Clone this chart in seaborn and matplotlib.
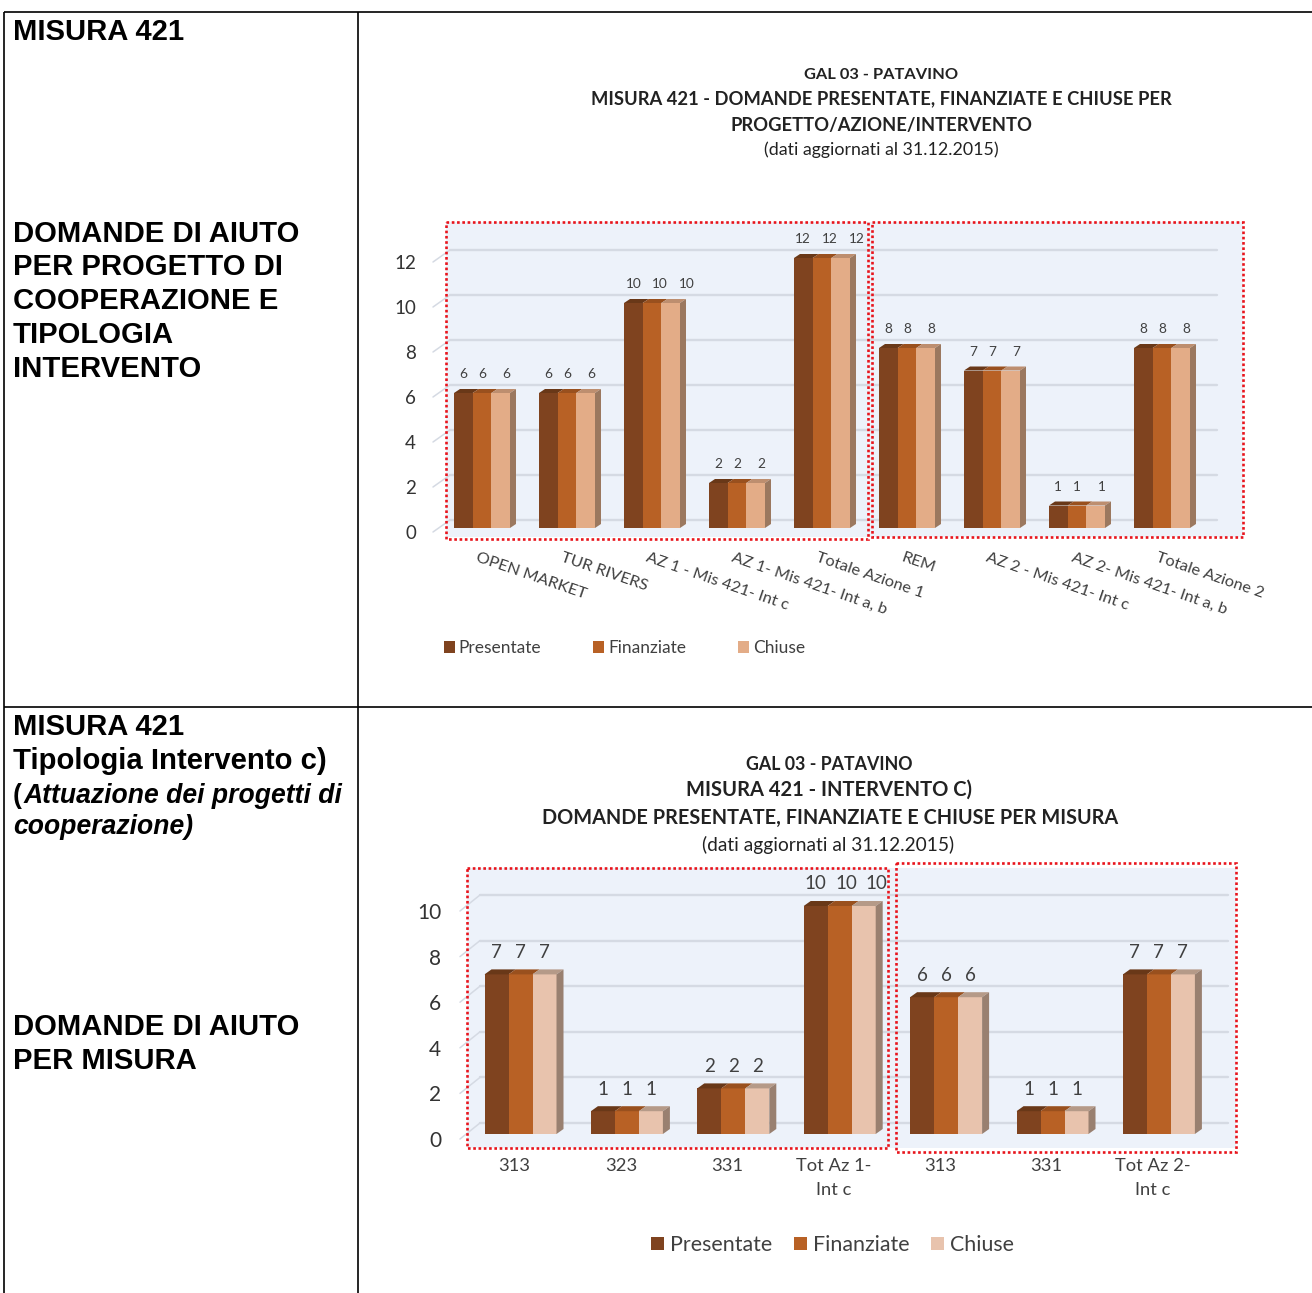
#!/usr/bin/env python3
"""Misura 421 - domande presentate, finanziate e chiuse (GAL 03 Patavino)."""

import matplotlib
matplotlib.use("Agg")
import matplotlib.pyplot as plt
from matplotlib.patches import Polygon, Rectangle
from matplotlib.transforms import ScaledTranslation
import pandas as pd
import seaborn as sns

W, H = 1312, 1293

SERIES = ["Presentate", "Finanziate", "Chiuse"]

# top chart
progetti = ["OPEN MARKET", "TUR RIVERS", "AZ 1 - Mis 421- Int c", "AZ 1- Mis 421- Int a, b",
            "Totale Azione 1", "REM", "AZ 2 - Mis 421- Int c", "AZ 2- Mis 421- Int a, b",
            "Totale Azione 2"]
progetti_presentate = [6, 6, 10, 2, 12, 8, 7, 1, 8]
progetti_finanziate = [6, 6, 10, 2, 12, 8, 7, 1, 8]
progetti_chiuse = [6, 6, 10, 2, 12, 8, 7, 1, 8]
progetti_ticks = [0, 2, 4, 6, 8, 10, 12]

# bottom chart
misure = ["313", "323", "331", "Tot Az 1-\nInt c", "313", "331", "Tot Az 2-\nInt c"]
misure_presentate = [7, 1, 2, 10, 6, 1, 7]
misure_finanziate = [7, 1, 2, 10, 6, 1, 7]
misure_chiuse = [7, 1, 2, 10, 6, 1, 7]
misure_ticks = [0, 2, 4, 6, 8, 10]

colors_top = ["#7F431F", "#B86125", "#E3AC87"]
colors_bottom = ["#7F431F", "#B86125", "#E8C3AD"]
roof_top = ["#693818", "#99501E", "#BD8E6F"]
roof_bottom = ["#693818", "#99501E", "#B59A88"]
WALL = "#EDF2FA"
GRID = "#D5DAE3"
FONT = "Lato"
FONT_LEFT = "Liberation Sans"

sns.set_theme(style="white")
plt.rcParams["font.family"] = [FONT, "DejaVu Sans"]
plt.rcParams["text.color"] = "#333333"


def make_frame(presentate, finanziate, chiuse):
    rows = []
    for name, values in zip(SERIES, [presentate, finanziate, chiuse]):
        for i, v in enumerate(values):
            rows.append({"pos": i, "stato": name, "domande": v})
    return pd.DataFrame(rows)


def draw_chart(fig, df, box, x0, step, y0, unit, cfg):
    """box is left, top, right, bottom of the wall in pixels."""
    left, top, right, bottom = box
    ax = fig.add_axes([left / W, 1 - bottom / H, (right - left) / W, (bottom - top) / H])
    sns.barplot(data=df, x="pos", y="domande", hue="stato", hue_order=SERIES,
                palette=cfg["colors"], width=cfg["width"], gap=0, dodge=True,
                saturation=1, linewidth=0, errorbar=None, zorder=3, ax=ax)
    px = 1 / step
    py = 1 / unit
    ax.set_xlim((left - x0) * px, (right - x0) * px)
    ax.set_ylim((y0 - bottom) * py, (y0 - top) * py)
    ax.set_facecolor(WALL)
    ax.set_xlabel("")
    ax.set_ylabel("")
    for s in ax.spines.values():
        s.set_visible(False)

    # back wall grid and the little diagonal floor ticks
    gx0, gx1 = cfg["grid_x"]
    for v in cfg["ticks"]:
        yy = v + cfg["grid_up"] * py
        ax.plot([(gx0 - x0) * px, (gx1 - x0) * px], [yy, yy], color=GRID, lw=1.7, zorder=1)
        ax.plot([(gx0 - cfg["diag"] - x0) * px, (gx0 - x0) * px],
                [v - cfg["tick_down"] * py, yy], color=GRID, lw=1.1, zorder=1, clip_on=False)

    # fake 3D: roof on each bar, side on the last series
    dx, dy = cfg["depth"][0] * px, cfg["depth"][1] * py
    for j, cont in enumerate(ax.containers):
        for b in cont:
            xa, w, h = b.get_x(), b.get_width(), b.get_height()
            ax.add_patch(Polygon([(xa, h), (xa + w, h), (xa + w + dx, h + dy), (xa + dx, h + dy)],
                                 fc=cfg["roof"][j], ec="none", zorder=4))
            if j == len(ax.containers) - 1:
                ax.add_patch(Polygon([(xa + w, 0), (xa + w + dx, dy), (xa + w + dx, h + dy), (xa + w, h)],
                                     fc=cfg["side"], ec="none", zorder=4))
            # value labels spread out a bit, as in the original
            n = len(str(int(h)))
            shift = cfg["spread"][n - 1][j]
            ax.annotate(str(int(h)), (xa + w / 2, h), xytext=(shift, cfg["label_up"]),
                        textcoords="offset pixels", ha="center", va="center",
                        fontsize=cfg["value_size"], color="#404040", zorder=6, annotation_clip=False)

    ax.set_yticks(cfg["ticks"])
    ax.tick_params(axis="y", length=0, pad=cfg["ypad"], labelsize=cfg["tick_size"], labelcolor="#333333")
    for t in ax.get_yticklabels():
        t.set_transform(t.get_transform() + ScaledTranslation(0, -cfg["tick_down"] / 100, fig.dpi_scale_trans))

    ax.set_xticks(range(len(cfg["cats"])))
    ax.set_xticklabels(cfg["cats"], **cfg["cat_kw"])
    ax.tick_params(axis="x", length=0, pad=cfg["xpad"], labelcolor="#404040")
    for t in ax.get_xticklabels():
        t.set_transform(t.get_transform() + ScaledTranslation(cfg["cat_dx"] / 100, 0, fig.dpi_scale_trans))

    sns.move_legend(ax, "center left", bbox_to_anchor=(cfg["legend_x"] / W, 1 - cfg["legend_y"] / H),
                    bbox_transform=fig.transFigure, ncol=3, frameon=False, title=None,
                    fontsize=cfg["legend_size"], handlelength=0.62, handleheight=0.62,
                    handletextpad=cfg["legend_pad"], columnspacing=cfg["legend_gap"],
                    borderpad=0, borderaxespad=0)
    for t in ax.get_legend().get_texts():
        t.set_color("#404040")
    return ax


fig = plt.figure(figsize=(W / 100, H / 100), dpi=100)

top_cfg = dict(
    colors=colors_top, roof=roof_top, side="#9B785F", width=56 / 85, ticks=progetti_ticks,
    cats=progetti, grid_x=(450, 1217), diag=17, grid_up=8, tick_down=4, depth=(6, 4),
    spread=[[0, 0, 6], [0, 8, 16]], label_up=19, value_size=9.8, tick_size=13.5, ypad=21.5,
    cat_kw=dict(rotation=-19, ha="left", va="top", rotation_mode="anchor", fontsize=11.8),
    xpad=10, cat_dx=-3, legend_x=444, legend_y=648, legend_size=12.5, legend_pad=0.23,
    legend_gap=3.0)
draw_chart(fig, make_frame(progetti_presentate, progetti_finanziate, progetti_chiuse),
           (446, 222, 1243, 537), 482, 85, 528, 22.5, top_cfg)

bottom_cfg = dict(
    colors=colors_bottom, roof=roof_bottom, side="#998070", width=72 / 106.4, ticks=misure_ticks,
    cats=misure, grid_x=(480, 1228), diag=20, grid_up=11, tick_down=5, depth=(7, 5),
    spread=[[0, 0, 0], [0, 7, 13]], label_up=22, value_size=13.5, tick_size=15, ypad=18.5,
    cat_kw=dict(fontsize=13.2, linespacing=1.65),
    xpad=7, cat_dx=-6, legend_x=651, legend_y=1245, legend_size=15.4, legend_pad=0.27,
    legend_gap=1.0)
draw_chart(fig, make_frame(misure_presentate, misure_finanziate, misure_chiuse),
           (467, 868, 1236, 1148), 520.5, 106.4, 1134, 22.8, bottom_cfg)

# page overlay in pixel coordinates: table rules, headings, red boxes
page = fig.add_axes([0, 0, 1, 1], facecolor="none")
page.set_xlim(0, W)
page.set_ylim(H, 0)
page.axis("off")

for xs, ys in [((4, 1312), (12, 12)), ((4, 1312), (707, 707)), ((4, 4), (12, H)), ((358, 358), (12, H))]:
    page.plot(xs, ys, color="black", lw=1.2, solid_capstyle="butt")

for x, y, w, h in [(446, 222, 422, 317), (872, 222, 371, 315), (467, 868, 421, 280), (896, 863, 340, 289)]:
    page.add_patch(Rectangle((x, y), w, h, fill=False, ec="#E8141C", lw=1.9, ls=(0, (1, 1))))


def left_text(y, s, **kw):
    page.text(13, y, s, family=FONT_LEFT, weight="bold", fontsize=21.1, color="black",
              va="center", ha="left", **kw)


left_text(32, "MISURA 421")
for y, s in zip([234, 267, 301, 335, 369],
                ["DOMANDE DI AIUTO", "PER PROGETTO DI", "COOPERAZIONE E", "TIPOLOGIA", "INTERVENTO"]):
    left_text(y, s)
left_text(727, "MISURA 421")
left_text(761, "Tipologia Intervento c)")
page.text(13, 796, "(", family=FONT_LEFT, weight="bold", fontsize=19.1, color="black", va="center")
page.text(24, 796, "Attuazione dei progetti di", family=FONT_LEFT, weight="bold", style="italic",
          fontsize=19.1, color="black", va="center")
page.text(13, 827, "cooperazione)", family=FONT_LEFT, weight="bold", style="italic",
          fontsize=19.1, color="black", va="center")
left_text(1027, "DOMANDE DI AIUTO")
left_text(1061, "PER MISURA")


def title(x, y, s, size, bold=True):
    page.text(x, y, s, ha="center", va="center", fontsize=size, color="#222222",
              weight="bold" if bold else "normal")


title(881, 75, "GAL 03 - PATAVINO", 11.8)
title(881, 99, "MISURA 421 - DOMANDE PRESENTATE, FINANZIATE E CHIUSE PER", 13.2)
title(881, 125, "PROGETTO/AZIONE/INTERVENTO", 13.2)
title(881, 150, "(dati aggiornati al 31.12.2015)", 12.8, bold=False)
title(829, 764, "GAL 03 - PATAVINO", 12.8)
title(829, 790, "MISURA 421 - INTERVENTO C)", 14.5)
title(830, 818, "DOMANDE PRESENTATE, FINANZIATE E CHIUSE PER MISURA", 14.3)
title(828, 845, "(dati aggiornati al 31.12.2015)", 13.8, bold=False)

fig.savefig("out.png", dpi=100)
